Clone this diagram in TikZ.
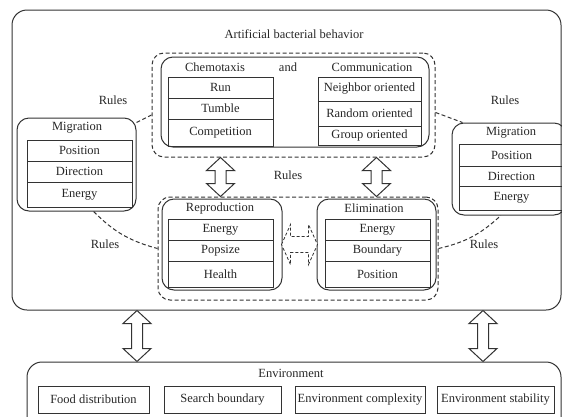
\documentclass[tikz,border=0pt]{standalone}
\usepackage{fontspec}
\setmainfont{Liberation Serif}
\usetikzlibrary{calc}

% Hollow double arrow from a top point to a bottom point
\newcommand{\hollowarrow}[2]{%
  \path #1 coordinate (ha1) #2 coordinate (ha2);
  \draw[hollowarr] (ha1) -- ++(14,13) -- ++(-8.5,0) -- ($(ha2)+(5.5,-13)$) -- ++(8.5,0)
    -- (ha2) -- ++(-14,-13) -- ++(8.5,0) -- ($(ha1)+(-5.5,13)$) -- ++(-8.5,0) -- cycle;}

\begin{document}
\begin{tikzpicture}[x=1pt, y=-1pt,
  every node/.style={font=\fontsize{12.5}{12.5}\selectfont, text=black!85},
  outerbox/.style={draw=black!80, line width=1pt, rounded corners=15, inner sep=0},
  groupbox/.style={draw=black!80, dash pattern=on 4pt off 2.5pt, line width=1pt, rounded corners=12, inner sep=0},
  roundbox/.style={draw=black!80, line width=1pt, rounded corners=12, inner sep=0},
  cell/.style={draw=black!80, line width=0.9pt, inner sep=0, minimum width=105},
  envcell/.style={draw=black!80, line width=0.9pt, inner sep=0, minimum height=27},
  rules/.style={draw=black!80, dash pattern=on 4pt off 2.5pt, line width=1pt},
  hollowarr/.style={draw=black!80, line width=1pt, fill=white}]

\useasboundingbox (0,0) rectangle (562,416);
\clip (0,0) rectangle (562,416);

% Outer frame of the bacterial behavior
\node[outerbox, minimum width=549, minimum height=300] (behav) at (286.5,160) {};
\node (behavtitle) at (294,34) {Artificial bacterial behavior};

% Upper group: chemotaxis and communication
\node[groupbox, minimum width=283, minimum height=104] (topgrp) at (293.5,105) {};
\node[roundbox, minimum width=268, minimum height=90] (topbox) at (295,102) {};
\node (chemo) at (215,67) {Chemotaxis};
\node (and) at (288,67) {and};
\node (comm) at (372,67) {Communication};
\foreach \yt/\h/\txt [count=\i] in {77/21/Run, 98/21/Tumble, 119/27/Competition}
  \node[cell, minimum height=\h] (chem\i) at (220.5,\yt+\h/2) {\txt};
\foreach \yt/\h/\txt [count=\i] in {77/24/Neighbor oriented, 101/25/Random oriented, 126/19/Group oriented}
  \node[cell, minimum width=103, minimum height=\h] (comm\i) at (369.5,\yt+\h/2) {\txt};

% Migration, left
\node[roundbox, minimum width=119, minimum height=93] (migL) at (76.5,164.5) {};
\node (migLtitle) at (77,128) {Migration};
\foreach \yt/\h/\txt [count=\i] in {140/21/Position, 161/21/Direction, 182/25/Energy}
  \node[cell, minimum height=\h] (migL\i) at (79.5,\yt+\h/2) {\txt};

% Migration, right
\node[roundbox, minimum width=114, minimum height=92] (migR) at (509,169) {};
\node (migRtitle) at (511,133) {Migration};
\foreach \yt/\h/\txt [count=\i] in {144/22/Position, 166/20/Direction, 186/24/Energy}
  \node[cell, minimum height=\h] (migR\i) at (511.5,\yt+\h/2) {\txt};

% Lower group: reproduction and elimination
\node[groupbox, minimum width=280, minimum height=103] (botgrp) at (298,248.5) {};
\node[roundbox, minimum width=120, minimum height=91] (repro) at (222,244.5) {};
\node[roundbox, minimum width=119, minimum height=91] (elim) at (376.5,244.5) {};
\node (reprotitle) at (220,208) {Reproduction};
\node (elimtitle) at (374,208) {Elimination};
\foreach \yt/\h/\txt [count=\i] in {219/21/Energy, 240/21/Popsize, 261/26/Health}
  \node[cell, minimum height=\h] (repro\i) at (220.5,\yt+\h/2) {\txt};
\foreach \yt/\h/\txt [count=\i] in {219/21/Energy, 240/21/Boundary, 261/26/Position}
  \node[cell, minimum height=\h] (elim\i) at (377.5,\yt+\h/2) {\txt};

% Dashed double arrow between reproduction and elimination
\draw[hollowarr, dash pattern=on 3pt off 2pt, line width=0.8pt] (repro.east |- repro2.north) ++(-1,5) -- ++(9,-20) -- ++(0,12) -- ++(18,0)
  -- ++(0,-12) -- ++(9,20) -- ++(-9,20) -- ++(0,-12) -- ++(-18,0) -- ++(0,12) -- cycle;

% Rules
\node (rules1) at (113,100) {Rules};
\node (rules2) at (505,100) {Rules};
\node (rules3) at (288,175) {Rules};
\node (rules4) at (105,244) {Rules};
\node (rules5) at (484,244) {Rules};
\draw[rules] (migL.35) -- (topgrp.184);
\draw[rules] (topgrp.-3) -- (migR.135);
\draw[rules] (migL.-70) to[bend right=15] (botgrp.west);
\draw[rules] (botgrp.east) to[bend right=15] (migR.-100);

% Hollow arrows between the groups
\hollowarrow{(topgrp.south -| chem1.south)}{(botgrp.north -| chem1.south)}
\hollowarrow{(topgrp.south -| elim.north)}{(elim.north |- botgrp.north)}

% Environment
\node[outerbox, minimum width=534, minimum height=70] (env) at (294,397) {};
\node (envtitle) at (291,373) {Environment};
\foreach \xl/\w/\txt [count=\i] in {38/111/Food distribution, 164/117/Search boundary, 295/130/Environment complexity, 437/117/Environment stability}
  \node[envcell, minimum width=\w] (envc\i) at (\xl+\w/2,399.5) {\txt};

% Hollow arrows to the environment
\hollowarrow{(behav.south -| 137,0)}{(env.north -| 137,0)}
\hollowarrow{(behav.south -| 483,0)}{(env.north -| 483,0)}

\end{tikzpicture}
\end{document}
